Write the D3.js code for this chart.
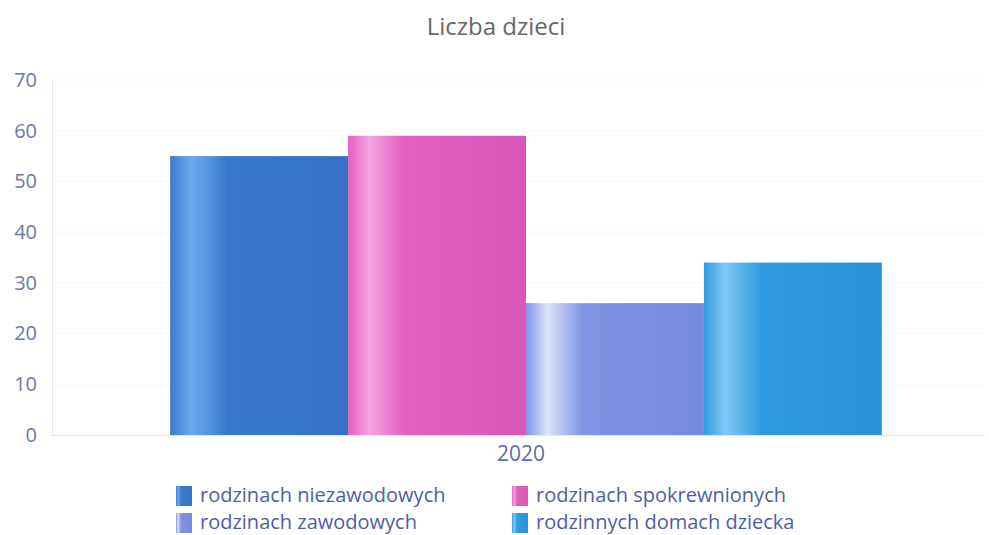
<!DOCTYPE html>
<head>
<meta charset="utf-8">
<style>
  body { margin: 0; background: #fff; }
  text { font-family: "Open Sans", sans-serif; }
</style>
<script src="https://d3js.org/d3.v7.min.js"></script>
</head>
<body>
<script>
var categories = ["2020"];
var seriesNames = ["rodzinach niezawodowych", "rodzinach spokrewnionych", "rodzinach zawodowych", "rodzinnych domach dziecka"];
var seriesValues = [55, 59, 26, 34];
var yTicks = [0, 10, 20, 30, 40, 50, 60, 70];
var colors = [
  {base: "#3b79cf", light: "#6eaaee", dark: "#3570c4"},
  {base: "#e45fbf", light: "#f4a2e4", dark: "#d657b5"},
  {base: "#8094e4", light: "#dde2fa", dark: "#7689de"},
  {base: "#309be0", light: "#80c9f5", dark: "#2b92d8"}
];

var width = 989, height = 535;
var margin = {top: 80, right: 0, bottom: 100, left: 52};

var svg = d3.select("body").append("svg")
  .attr("width", width)
  .attr("height", height);

var defs = svg.append("defs");
colors.forEach(function(c, i) {
  var g = defs.append("linearGradient").attr("id", "grad" + i)
    .attr("x1", "0%").attr("x2", "100%").attr("y1", "0%").attr("y2", "0%");
  g.append("stop").attr("offset", "0%").attr("stop-color", c.base);
  g.append("stop").attr("offset", "12%").attr("stop-color", c.light);
  g.append("stop").attr("offset", "32%").attr("stop-color", c.base);
  g.append("stop").attr("offset", "100%").attr("stop-color", c.dark);
});

var x0 = d3.scaleBand().domain(categories)
  .range([margin.left, 1000])
  .paddingInner(0).paddingOuter(0.166);
var x1 = d3.scaleBand().domain(seriesNames).range([0, x0.bandwidth()]);
var y = d3.scaleLinear().domain([0, 70]).range([435, margin.top]);

// title
svg.append("text")
  .attr("x", 496).attr("y", 35)
  .attr("text-anchor", "middle")
  .attr("font-size", "24px")
  .attr("fill", "#666")
  .text("Liczba dzieci");

// faint grid
svg.append("g").selectAll("line")
  .data(yTicks.slice(1))
  .enter().append("line")
  .attr("x1", margin.left).attr("x2", 985)
  .attr("y1", function(d) { return y(d); })
  .attr("y2", function(d) { return y(d); })
  .attr("stroke", "#f5f8fa").attr("stroke-width", 1);

// y axis
var yAxis = svg.append("g")
  .attr("transform", "translate(" + margin.left + ",0)")
  .call(d3.axisLeft(y).tickValues(yTicks).tickSize(0).tickPadding(15));
yAxis.select(".domain").attr("stroke", "#e3ecf1");
yAxis.selectAll("text").attr("font-size", "20px").attr("fill", "#6b79a6")
  .attr("font-family", "Open Sans, sans-serif");

// bars
svg.append("g").selectAll("rect")
  .data(seriesValues)
  .enter().append("rect")
  .attr("x", function(d, i) { return x0("2020") + x1(seriesNames[i]); })
  .attr("y", function(d) { return y(d); })
  .attr("width", x1.bandwidth())
  .attr("height", function(d) { return y(0) - y(d); })
  .attr("fill", function(d, i) { return "url(#grad" + i + ")"; });

// x axis
var xAxis = svg.append("g")
  .attr("transform", "translate(0," + y(0) + ")")
  .call(d3.axisBottom(x0).tickSize(0).tickPadding(11));
xAxis.select(".domain").attr("stroke", "#dce8ee").attr("d", "M" + margin.left + ",0.5H985");
xAxis.selectAll("text").attr("font-size", "21px").attr("fill", "#5e6aa6")
  .attr("font-family", "Open Sans, sans-serif").attr("dx", "-5");

// legend
var legend = svg.append("g").selectAll("g")
  .data(seriesNames)
  .enter().append("g")
  .attr("transform", function(d, i) {
    var col = [0, 1, 0, 1][i], row = [0, 0, 1, 1][i];
    return "translate(" + (176 + col * 336) + "," + (486 + row * 27) + ")";
  });
legend.append("rect")
  .attr("width", 16).attr("height", 20)
  .attr("fill", function(d, i) { return "url(#grad" + i + ")"; });
legend.append("text")
  .attr("x", 24).attr("y", 16)
  .attr("font-size", "20px")
  .attr("fill", "#4f5da6")
  .text(function(d) { return d; });
</script>
</body>
</html>
